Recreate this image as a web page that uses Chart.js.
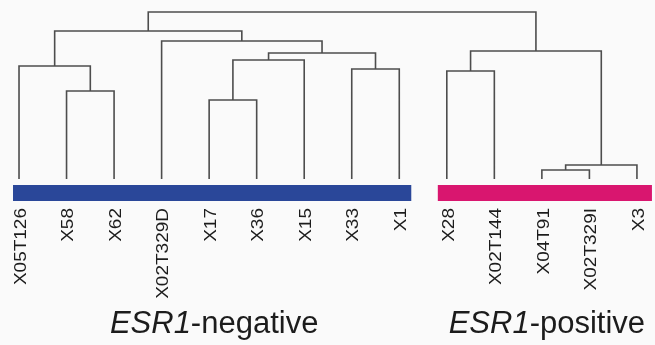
<!DOCTYPE html>
<html>
<head>
<meta charset="utf-8">
<script src="https://cdn.jsdelivr.net/npm/chart.js@4"></script>
<style>
  html, body { margin: 0; padding: 0; background: #fafafa; }
  #wrap { width: 655px; height: 345px; position: relative; }
</style>
</head>
<body>
<div id="wrap"><canvas id="c"></canvas></div>
<script>
// Leaf samples, in dendrogram order
const leafLabels = ['X05T126', 'X58', 'X62', 'X02T329D', 'X17', 'X36', 'X15', 'X33', 'X1',
                    'X28', 'X02T144', 'X04T91', 'X02T329I', 'X3'];

// Agglomeration steps: node (14 + k) joins mergeLeft[k] and mergeRight[k] at mergeHeight[k]
const mergeLeft   = [11, 14, 4, 1, 9, 7, 0, 16, 21, 18, 3, 20, 25];
const mergeRight  = [12, 13, 5, 2, 10, 8, 17, 6, 19, 15, 22, 24, 23];
const mergeHeight = [0.09, 0.14, 0.79, 0.88, 1.08, 1.10, 1.13, 1.19, 1.26, 1.28, 1.38, 1.48, 1.67];

// Sample groups (first and last leaf index)
const groupNames  = ['negative', 'positive'];
const groupStart  = [0, 9];
const groupEnd    = [8, 13];
const groupColors = ['#2a4799', '#d9166f'];

// Build the link polylines from the merge table
const nodeX = leafLabels.map((_, i) => i);
const nodeH = leafLabels.map(() => 0);
const linkPoints = [];
mergeLeft.forEach((l, k) => {
  const r = mergeRight[k], h = mergeHeight[k];
  linkPoints.push({x: nodeX[l], y: nodeH[l]}, {x: nodeX[l], y: h},
                  {x: nodeX[r], y: h}, {x: nodeX[r], y: nodeH[r]}, {x: NaN, y: null});
  nodeX.push((nodeX[l] + nodeX[r]) / 2);
  nodeH.push(h);
});

const decor = {
  id: 'decor',
  afterDatasetsDraw(chart) {
    const {ctx, scales: {x, y}} = chart;
    const base = y.getPixelForValue(0);
    ctx.save();
    // group bars
    const padL = [6, 9], padR = [12, 15];
    const mids = [];
    groupNames.forEach((g, i) => {
      const x0 = x.getPixelForValue(groupStart[i]) - padL[i];
      const x1 = x.getPixelForValue(groupEnd[i]) + padR[i];
      ctx.fillStyle = groupColors[i];
      ctx.fillRect(x0, base + 6, x1 - x0, 16);
      mids.push((x0 + x1) / 2);
    });
    // leaf labels, rotated
    ctx.fillStyle = '#1c1c1c';
    ctx.font = '19px "Liberation Sans", Arial, sans-serif';
    ctx.textAlign = 'right';
    ctx.textBaseline = 'middle';
    leafLabels.forEach((lab, i) => {
      ctx.save();
      ctx.translate(x.getPixelForValue(i) + 2, base + 29);
      ctx.rotate(-Math.PI / 2);
      ctx.scale(1, 0.9);
      ctx.fillText(lab, 0, 0);
      ctx.restore();
    });
    // group titles
    ctx.textAlign = 'left';
    ctx.textBaseline = 'alphabetic';
    const fIt = 'italic 31px "Liberation Sans", Arial, sans-serif';
    const fUp = '31px "Liberation Sans", Arial, sans-serif';
    groupNames.forEach((g, i) => {
      const a = 'ESR1', b = '-' + g;
      ctx.font = fIt; const wa = ctx.measureText(a).width;
      ctx.font = fUp; const wb = ctx.measureText(b).width;
      const sx = mids[i] - (wa + wb) / 2 + 2;
      ctx.font = fIt; ctx.fillText(a, sx, base + 154);
      ctx.font = fUp; ctx.fillText(b, sx + wa, base + 154);
    });
    ctx.restore();
  }
};

new Chart(document.getElementById('c'), {
  type: 'line',
  data: {
    datasets: [{
      data: linkPoints,
      borderColor: '#4d4d4d',
      borderWidth: 1.6,
      pointRadius: 0,
      spanGaps: false,
      tension: 0,
      fill: false
    }]
  },
  options: {
    responsive: true,
    maintainAspectRatio: false,
    animation: false,
    layout: { padding: 0 },
    plugins: { legend: { display: false }, tooltip: { enabled: false } },
    scales: {
      x: { type: 'linear', min: -0.4, max: 13.38, display: false },
      y: { type: 'linear', min: -1.66, max: 1.79, display: false }
    }
  },
  plugins: [decor]
});
</script>
</body>
</html>
